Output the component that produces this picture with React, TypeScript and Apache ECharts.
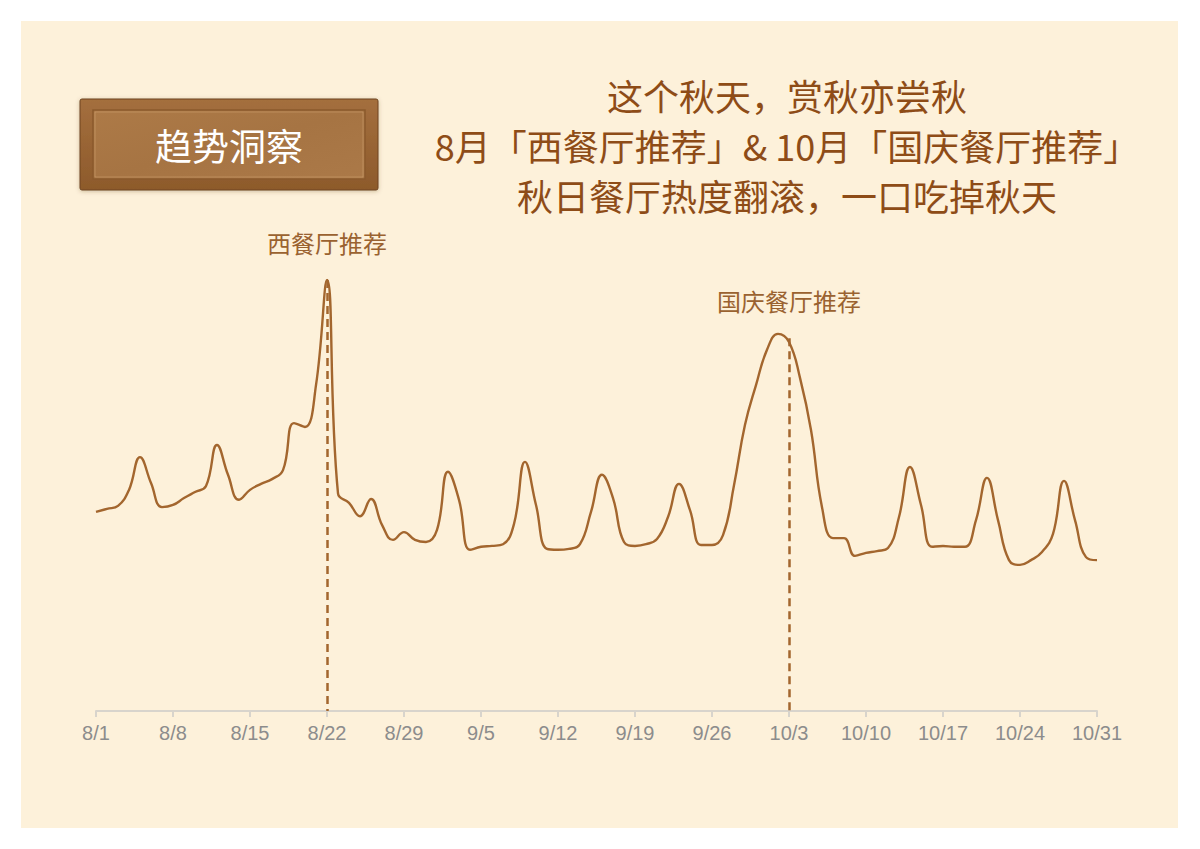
import * as echarts from "echarts"
import { useEffect, useRef } from "react"

const TITLE_LINES = ["这个秋天，赏秋亦尝秋", "8月「西餐厅推荐」& 10月「国庆餐厅推荐」", "秋日餐厅热度翻滚，一口吃掉秋天"]
const BADGE = "趋势洞察"

// 8/1 – 10/31, one category per day; a tick label every 7 days
const MONTHS = [
  { month: 8, days: 31 },
  { month: 9, days: 30 },
  { month: 10, days: 31 },
]
const dates = MONTHS.flatMap(({ month, days }) => Array.from({ length: days }, (_, i) => `${month}/${i + 1}`))

// daily restaurant heat index (peak = 100)
const heat = [
  46.2, 46.9, 47.6, 51.3, 58.9, 52.9, 47.3, 47.8, 49.4, 50.8,
  52.2, 61.7, 54.8, 49.0, 51.3, 52.7, 53.8, 55.9, 66.8, 65.9,
  75.6, 100, 50.5, 48.3, 45.2, 49.2, 43.2, 39.7, 41.5, 39.7,
  39.2, 42.0, 55.5, 49.0, 37.4, 38.1, 38.3, 38.7, 43.4, 57.8,
  47.8, 37.6, 37.4, 37.6, 38.7, 46.2, 54.8, 49.4, 39.2, 38.3,
  38.7, 39.9, 45.0, 52.7, 46.6, 38.5, 38.5, 40.8, 52.4, 66.4,
  75.6, 83.8, 87.5, 85.6, 77.3, 65.2, 47.3, 40.1, 40.1, 36.0,
  36.7, 37.1, 37.8, 45.0, 56.6, 47.8, 38.1, 38.3, 38.1, 38.1,
  44.3, 54.1, 44.3, 35.0, 33.9, 35.0, 36.9, 41.1, 53.4, 44.3,
  35.7, 35.0,
]

const peaks = [
  { date: "8/22", value: 100, label: "西餐厅推荐" },
  { date: "10/3", value: 86.5, label: "国庆餐厅推荐" },
]

const BROWN = "#a3662e"
const TITLE_BROWN = "#8e4c17"

export default function App() {
  const ref = useRef<HTMLDivElement>(null)

  useEffect(() => {
    document.body.style.margin = "0"
    if (!ref.current) return
    const chart = echarts.init(ref.current, null, { renderer: "svg" })

    chart.setOption({
      animation: false,
      backgroundColor: "#ffffff",
      grid: { left: 96, right: 103, top: 280, bottom: 138 },
      graphic: [
        // cream card
        { type: "rect", z: -10, shape: { x: 21, y: 21, width: 1157, height: 807 }, style: { fill: "#fdf1da" } },
        // wooden badge
        {
          type: "group",
          children: [
            {
              type: "rect",
              shape: { x: 80, y: 99, width: 298, height: 91, r: 2 },
              style: {
                fill: new echarts.graphic.LinearGradient(0, 0, 0, 1, [
                  { offset: 0, color: "#a46f3e" },
                  { offset: 1, color: "#8d5a2b" },
                ]),
                stroke: "#6e4420",
                lineWidth: 1,
                shadowColor: "rgba(90,60,30,0.3)",
                shadowBlur: 4,
                shadowOffsetY: 1,
              },
            },
            {
              type: "rect",
              shape: { x: 93, y: 110, width: 272, height: 69 },
              style: {
                fill: new echarts.graphic.LinearGradient(0, 0, 1, 1, [
                  { offset: 0, color: "#ad7a47" },
                  { offset: 0.5, color: "#a67443" },
                  { offset: 1, color: "#ab7948" },
                ]),
                stroke: "#8a5a2c",
                lineWidth: 1.5,
              },
            },
            {
              type: "rect",
              shape: { x: 95, y: 112, width: 268, height: 65 },
              style: { fill: "none", stroke: "rgba(214,170,120,0.45)", lineWidth: 1 },
            },
            {
              type: "text",
              x: 229,
              y: 145,
              style: {
                text: BADGE,
                fill: "#ffffff",
                fontSize: 37,
                fontFamily: "Noto Sans CJK SC",
                align: "center",
                verticalAlign: "middle",
              },
            },
          ],
        },
        {
          type: "text",
          x: 787,
          y: 70,
          style: {
            text: TITLE_LINES.join("\n"),
            fill: TITLE_BROWN,
            fontSize: 36,
            lineHeight: 50,
            fontFamily: "Noto Sans CJK SC",
            align: "center",
            verticalAlign: "top",
          },
        },
      ],
      xAxis: {
        type: "category",
        data: dates,
        boundaryGap: false,
        axisLine: { lineStyle: { color: "#d8d4cc", width: 2 } },
        axisTick: { interval: 6, length: 6, lineStyle: { color: "#d8d4cc", width: 2 } },
        axisLabel: { interval: 6, color: "#8c8c8c", fontSize: 20, fontFamily: "Liberation Sans", margin: 12 },
        splitLine: { show: false },
      },
      yAxis: { type: "value", min: 0, max: 100, show: false },
      series: [
        {
          type: "line",
          data: heat,
          smooth: 0.45,
          symbol: "none",
          lineStyle: { color: BROWN, width: 2.4 },
          markLine: {
            silent: true,
            symbol: "none",
            lineStyle: { color: BROWN, type: [8, 5], width: 2.5 },
            label: {
              show: true,
              position: "start",
              formatter: "{b}",
              color: "#9a6230",
              fontSize: 24,
              fontFamily: "Noto Sans CJK SC",
              distance: 26,
            },
            data: peaks.map((p) => [
              { coord: [p.date, p.value], name: p.label },
              { coord: [p.date, 0] },
            ]),
          },
        },
      ],
    })

    return () => chart.dispose()
  }, [])

  return <div ref={ref} style={{ width: 1200, height: 849 }} />
}
